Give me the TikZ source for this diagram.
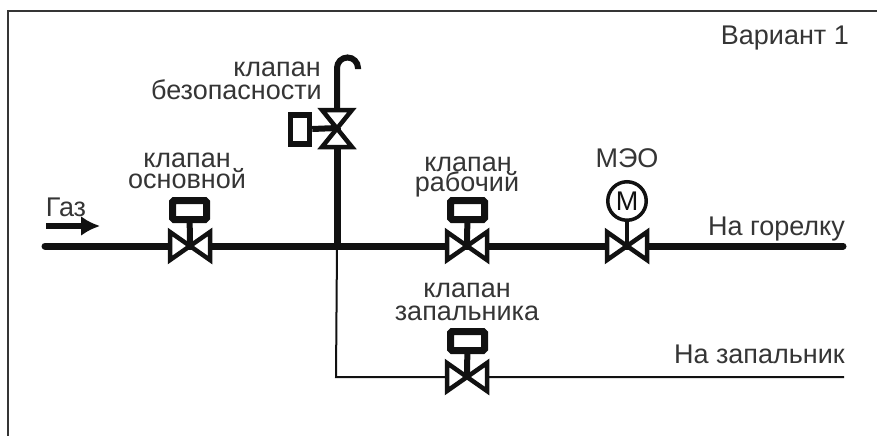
\documentclass[tikz,border=0pt]{standalone}
\usepackage{fontspec}
\usetikzlibrary{arrows.meta}
\setmainfont{Liberation Sans}
\definecolor{ink}{HTML}{111111}
\tikzset{
 x=1pt,y=-1pt,
 lab/.style={inner sep=0pt,font=\fontsize{27}{27}\selectfont,text=ink!85!white,anchor=base},
 labr/.style={lab,anchor=base east},
 pipe/.style={draw=ink,line width=7pt},
 thin pipe/.style={draw=ink,line width=2pt},
 valve/.style={draw=ink,line width=4.5pt,fill=white,line join=miter},
 actbox/.style={draw=ink,line width=7pt,fill=white,rounded corners=1.5pt,minimum width=34pt,minimum height=19pt,inner sep=0pt},
 stem/.style={draw=ink,line width=6pt},
}
\newcommand{\hvalve}[1]{%
 \draw[valve] (#1) ++(-20,-14) -- ++(40,28) -- ++(0,-28) -- ++(-40,28) -- cycle;}
\begin{document}
\begin{tikzpicture}
\useasboundingbox (0,0) rectangle (877,436);
\fill[white] (0,0) rectangle (877,436);
\coordinate (fa) at (877,11);
\coordinate (fb) at (8,11);
\coordinate (fc) at (8,436);
\draw[ink!85!white,line width=2pt] (fa) -- (fb) -- (fc);
% junction and free ends
\coordinate (start) at (45,246);
\coordinate (v1) at (190,246);
\coordinate (j) at (337,246);
\coordinate (v2) at (467,246);
\coordinate (v3) at (627,246);
\coordinate (end) at (843,246);
\coordinate (v4) at (467,377);
\coordinate (corner) at (336,377);
\coordinate (end2) at (844,377);
\coordinate (vs) at (337,128);
\draw[pipe,line cap=round] (start) -- (end);
\draw[pipe] (j) -- (vs);
\draw[thin pipe] (j) -- (corner) -- (end2);
% hook
\coordinate (hk) at (337,110);
\draw[ink,line width=6pt] (hk) -- (337,68) arc[start angle=180,end angle=360,radius=10.5] -- ++(0,1);
% main valves
\node[actbox] (a1) at (189.5,210) {};
\node[actbox] (a2) at (467.5,210) {};
\node[actbox] (a4) at (467.5,341) {};
\node[circle,draw=ink,line width=3.5pt,fill=white,minimum size=38.5pt,inner sep=0pt,font=\fontsize{27}{27}\selectfont,text=ink] (m) at (627,201) {М};
\draw[stem] (a1) -- (v1);
\draw[stem] (a2) -- (v2);
\draw[stem,line width=4.5pt] (m) -- (v3);
\draw[stem] (a4) -- (v4);
\hvalve{v1}
\hvalve{v2}
\hvalve{v3}
\hvalve{v4}
% safety valve
\node[draw=ink,line width=5.5pt,fill=white,minimum width=19pt,minimum height=29pt,inner sep=0pt] (as) at (300,129.5) {};
\draw[stem] (as) -- (vs);
\draw[valve] (322,110) -- (352,147) -- (322,147) -- (352,110) -- cycle;
% gas arrow
\coordinate (g1) at (46,226);
\coordinate (g2) at (100,226);
\draw[ink,line width=6.5pt,-{Latex[length=19pt,width=20pt]}] (g1) -- (g2);
% labels
\node[lab] (l1a) at (187,167) {клапан};
\node[lab] (l1b) at (187,188) {основной};
\node[lab] (l2a) at (468,171) {клапан};
\node[lab] (l2b) at (467,191) {рабочий};
\node[labr] (l3a) at (321,77) {клапан};
\node[labr] (l3b) at (322,99) {безопасности};
\node[lab] (l4a) at (467,297) {клапан};
\node[lab] (l4b) at (467,320) {запальника};
\node[lab] (l5) at (627,167) {МЭО};
\node[lab] (l6) at (66,216) {Газ};
\node[labr] (l7) at (845,235) {На горелку};
\node[labr] (l8) at (845,363) {На запальник};
\node[labr] (l9) at (849,45) {Вариант 1};
\end{tikzpicture}
\end{document}
